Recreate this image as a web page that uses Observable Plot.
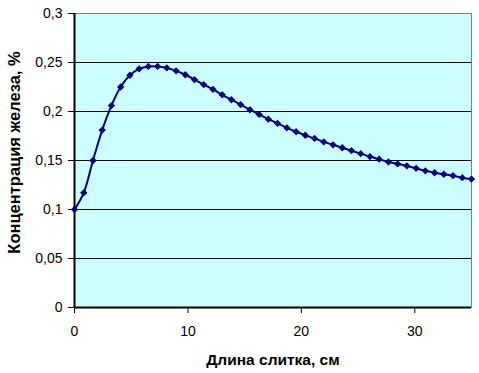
<!DOCTYPE html>
<html>
<head>
<meta charset="utf-8">
<script src="https://cdn.jsdelivr.net/npm/d3@7"></script>
<script src="https://cdn.jsdelivr.net/npm/@observablehq/plot@0.6"></script>
<style>
  html, body { margin: 0; padding: 0; background: #fff; }
</style>
</head>
<body>
<div id="chart"></div>
<script>
const lengthCm = [0, 0.814, 1.628, 2.442, 3.256, 4.07, 4.884, 5.698, 6.512, 7.326,
  8.14, 8.953, 9.767, 10.581, 11.395, 12.209, 13.023, 13.837, 14.651, 15.465,
  16.279, 17.093, 17.907, 18.721, 19.535, 20.349, 21.163, 21.977, 22.791, 23.605,
  24.419, 25.233, 26.047, 26.86, 27.674, 28.488, 29.302, 30.116, 30.93, 31.744,
  32.558, 33.372, 34.186, 35];
const ironPct = [0.100, 0.117, 0.150, 0.181, 0.206, 0.225, 0.237, 0.2435, 0.246, 0.246,
  0.2445, 0.2415, 0.2375, 0.2325, 0.2275, 0.2225, 0.217, 0.212, 0.207, 0.2018,
  0.197, 0.1922, 0.1878, 0.1833, 0.1793, 0.1758, 0.1725, 0.169, 0.166, 0.163,
  0.160, 0.157, 0.154, 0.1514, 0.1485, 0.1465, 0.1445, 0.142, 0.1395, 0.1375,
  0.136, 0.1345, 0.1325, 0.131];
const xTicks = [0, 10, 20, 30];
const yTicks = [0, 0.05, 0.1, 0.15, 0.2, 0.25, 0.3];
const xTitle = "Длина слитка, см";
const yTitle = "Концентрация железа, %";

const data = lengthCm.map((x, i) => ({x, y: ironPct[i]}));
const fmt = d => String(+d.toFixed(2)).replace(".", ",");

const chart = Plot.plot({
  width: 479,
  height: 373,
  marginLeft: 74,
  marginRight: 8,
  marginTop: 13,
  marginBottom: 66,
  style: {fontFamily: "'Liberation Sans', Arial, sans-serif", fontSize: "14px", color: "#000", background: "#fff", overflow: "visible"},
  x: {domain: [0, 35]},
  y: {domain: [0, 0.3]},
  marks: [
    Plot.frame({fill: "#CCFFFF", stroke: "#808080"}),
    Plot.gridY(yTicks.slice(1, -1), {stroke: "#000", strokeOpacity: 1}),
    Plot.axisX({ticks: xTicks, tickSize: 6, tickPadding: 13, label: null, fontSize: 14}),
    Plot.axisY({ticks: yTicks, tickSize: 6, tickPadding: 6, tickFormat: fmt, label: null, fontSize: 14}),
    Plot.ruleX([0], {stroke: "#000", strokeWidth: 2}),
    Plot.ruleY([0], {stroke: "#000", strokeWidth: 2}),
    Plot.line(data, {x: "x", y: "y", stroke: "#000080", strokeWidth: 2, curve: "catmull-rom"}),
    Plot.dot(data, {x: "x", y: "y", symbol: "diamond2", r: 3.3, fill: "#000080", stroke: "none"}),
    Plot.text([xTitle], {frameAnchor: "bottom", dy: 57, lineAnchor: "bottom", textAnchor: "middle", fontWeight: "bold", fontSize: 15.5, text: d => d}),
    Plot.text([yTitle], {frameAnchor: "left", dx: -60, dy: -8, rotate: -90, textAnchor: "middle", lineAnchor: "middle", fontWeight: "bold", fontSize: 16.5, text: d => d})
  ]
});
document.getElementById("chart").appendChild(chart);
</script>
</body>
</html>
